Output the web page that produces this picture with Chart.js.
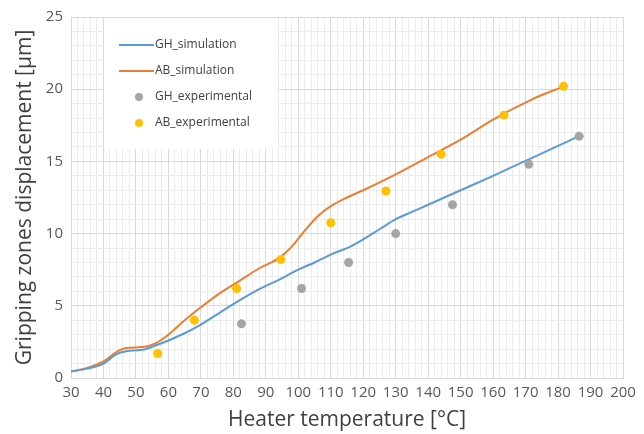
<!DOCTYPE html>
<html>
<head>
<meta charset="utf-8">
<script src="https://cdn.jsdelivr.net/npm/chart.js@4/dist/chart.umd.min.js"></script>
<style>
  html, body { margin: 0; padding: 0; background: #fff; }
  #wrap { width: 644px; height: 434px; position: relative; }
</style>
</head>
<body>
<div id="wrap"><canvas id="chart"></canvas></div>
<script>
// simulation curves
const simTempGH = [30, 35, 40, 44, 47, 52, 56, 60, 65, 70, 76, 82, 88, 94, 100, 105, 110, 116, 120, 125, 130, 135, 140, 150, 160, 172, 186.5]
const simGH     = [0.45, 0.65, 1.0, 1.65, 1.85, 1.95, 2.25, 2.6, 3.1, 3.7, 4.55, 5.4, 6.15, 6.8, 7.5, 8.0, 8.55, 9.1, 9.6, 10.3, 11.0, 11.5, 12.0, 13.0, 14.0, 15.25, 16.75]
const simTempAB = [30, 35, 40, 44, 47, 52, 56, 60, 65, 70, 76, 82, 88, 94, 98, 102, 106, 110, 115, 120, 130, 140, 150, 160, 172, 181.7]
const simAB     = [0.45, 0.7, 1.15, 1.8, 2.07, 2.14, 2.4, 3.0, 4.0, 4.9, 5.9, 6.75, 7.6, 8.3, 9.1, 10.2, 11.2, 11.9, 12.5, 13.0, 14.1, 15.3, 16.5, 17.9, 19.3, 20.2]

// measured points
const expTempGH = [82.5, 101, 115.5, 130, 147.5, 171, 186.5]
const expGH     = [3.75, 6.2, 8.0, 10.0, 12.0, 14.8, 16.75]
const expTempAB = [56.7, 68, 81, 94.6, 110, 127, 144, 163.3, 181.7]
const expAB     = [1.7, 4.0, 6.2, 8.2, 10.75, 12.95, 15.5, 18.2, 20.2]

const seriesNames = ['GH_simulation', 'AB_simulation', 'GH_experimental', 'AB_experimental']
const seriesColors = ['#5B9BD5', '#ED7D31', '#A5A5A5', '#FFC000']

const xy = (xs, ys) => xs.map((x, i) => ({ x: x, y: ys[i] }))
const font = '"Open Sans", "DejaVu Sans", sans-serif'

// legend drawn inside the plot, over the grid, like the excel one
const boxLegend = {
  id: 'boxLegend',
  beforeDatasetsDraw(chart) {
    const ctx = chart.ctx, a = chart.chartArea
    const left = a.left + 33, top = a.top + 1
    ctx.save()
    ctx.fillStyle = '#fff'
    ctx.fillRect(left, top, 174, 131)
    ctx.font = '12px ' + font
    ctx.textBaseline = 'middle'
    chart.data.datasets.forEach((ds, i) => {
      const y = top + 27 + i * 26
      if (ds.showLine === false) {
        ctx.fillStyle = ds.backgroundColor
        ctx.beginPath()
        ctx.arc(left + 35, y, 4, 0, Math.PI * 2)
        ctx.fill()
      } else {
        ctx.strokeStyle = ds.borderColor
        ctx.lineWidth = 2
        ctx.beginPath()
        ctx.moveTo(left + 15, y)
        ctx.lineTo(left + 50, y)
        ctx.stroke()
      }
      ctx.fillStyle = '#404040'
      ctx.fillText(ds.label, left + 51, y)
    })
    ctx.restore()
  }
}

new Chart(document.getElementById('chart'), {
  type: 'line',
  data: {
    datasets: [
      { label: seriesNames[0], data: xy(simTempGH, simGH), borderColor: seriesColors[0], backgroundColor: seriesColors[0],
        borderWidth: 2, pointRadius: 0, cubicInterpolationMode: 'monotone', order: 2 },
      { label: seriesNames[1], data: xy(simTempAB, simAB), borderColor: seriesColors[1], backgroundColor: seriesColors[1],
        borderWidth: 2, pointRadius: 0, cubicInterpolationMode: 'monotone', order: 2 },
      { label: seriesNames[2], data: xy(expTempGH, expGH), showLine: false, borderColor: seriesColors[2], backgroundColor: seriesColors[2],
        pointRadius: 4.5, pointBorderWidth: 0, order: 1 },
      { label: seriesNames[3], data: xy(expTempAB, expAB), showLine: false, borderColor: seriesColors[3], backgroundColor: seriesColors[3],
        pointRadius: 4.5, pointBorderWidth: 0, order: 1 }
    ]
  },
  options: {
    responsive: true,
    maintainAspectRatio: false,
    animation: false,
    layout: { padding: { left: 0, right: 21, top: 15, bottom: 0 } },
    plugins: { legend: { display: false }, tooltip: { enabled: false } },
    scales: {
      x: {
        type: 'linear', min: 30, max: 200,
        ticks: {
          stepSize: 2, autoSkip: false, maxRotation: 0, padding: 6,
          callback: v => v % 10 === 0 ? v : '',
          color: '#595959', font: { size: 15, family: font }
        },
        grid: { color: c => c.tick && c.tick.value % 10 === 0 ? '#d9d9d9' : '#ececec', drawTicks: false },
        border: { color: '#d9d9d9' },
        title: { display: true, text: 'Heater temperature [°C]', color: '#404040', font: { size: 21, family: font }, padding: { top: 0, bottom: 1 } },
        afterFit(s) { s.height = 56 }
      },
      y: {
        min: 0, max: 25,
        ticks: {
          stepSize: 1, autoSkip: false, padding: 8,
          callback: v => v % 5 === 0 ? v : '',
          color: '#595959', font: { size: 15, family: font }
        },
        grid: { color: c => c.tick && c.tick.value % 5 === 0 ? '#d9d9d9' : '#ececec', drawTicks: false },
        border: { color: '#d9d9d9' },
        title: { display: true, text: 'Gripping zones displacement [µm]', color: '#404040', font: { size: 21, family: font }, padding: { top: 12, bottom: 0 } },
        afterFit(s) { s.width = 71 }
      }
    }
  },
  plugins: [boxLegend]
})
</script>
</body>
</html>
